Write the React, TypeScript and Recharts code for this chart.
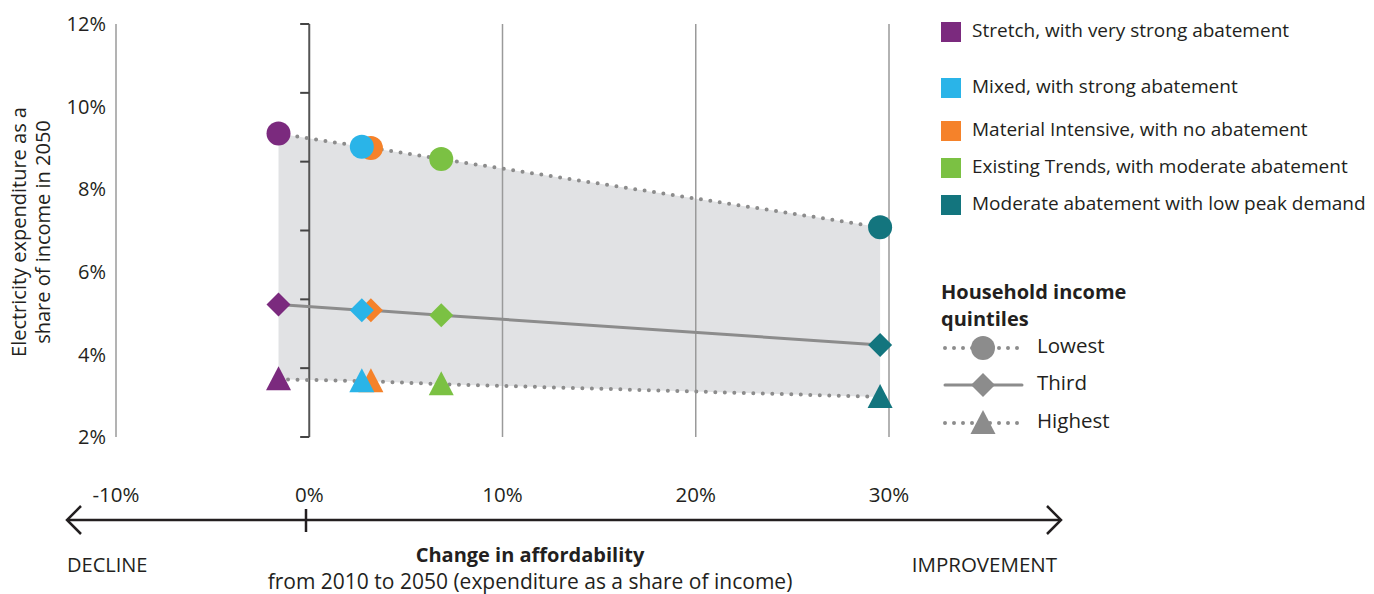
import { ComposedChart, Area, Line, Scatter, XAxis, YAxis, ReferenceLine } from 'recharts';

// scenarios (legend order)
const scenarios = [
  'Stretch, with very strong abatement',
  'Mixed, with strong abatement',
  'Material Intensive, with no abatement',
  'Existing Trends, with moderate abatement',
  'Moderate abatement with low peak demand',
];
const colors = ['#7b2a7e', '#2ab4e8', '#f5822a', '#7bc143', '#13757e'];

// change in affordability 2010-2050 (%)
const affordability = [-1.59, 2.72, 3.19, 6.83, 29.54];
// electricity expenditure as share of income in 2050 (%), by quintile
const lowest = [9.35, 9.03, 9.0, 8.73, 7.08];
const third = [5.21, 5.07, 5.07, 4.95, 4.23];
const highest = [3.4, 3.35, 3.35, 3.28, 2.97];

const xTicks = [-10, 0, 10, 20, 30];
const yTicks = [2, 4, 6, 8, 10, 12];
const zeroLineTicks = [12, 10.333, 8.667, 7, 5.333, 3.667, 2];
const quintiles = ['Lowest', 'Third', 'Highest'];

const FONT = '"Open Sans", "Noto Sans", sans-serif';
const TEXT = '#231f20';
const GREY = '#8c8c8c';

// line/area table sorted by x
const rows = affordability
  .map((x, i) => ({ x, low: lowest[i], mid: third[i], high: highest[i], band: [highest[i], lowest[i]] }))
  .sort((a, b) => a.x - b.x);

// drawing order: cyan sits in front of orange
const drawOrder = [0, 2, 1, 3, 4];

function marker(kind: string, cx: number, cy: number, fill: string) {
  if (kind === 'Lowest') return <circle cx={cx} cy={cy} r={12} fill={fill} />;
  if (kind === 'Third')
    return <polygon points={`${cx},${cy - 12} ${cx + 12},${cy} ${cx},${cy + 12} ${cx - 12},${cy}`} fill={fill} />;
  return <polygon points={`${cx},${cy - 13} ${cx + 12.5},${cy + 11} ${cx - 12.5},${cy + 11}`} fill={fill} />;
}

export default function App() {
  return (
    <div style={{ position: 'relative', width: 1358, height: 586, fontFamily: FONT }}>
      <ComposedChart width={1358} height={586} data={rows} margin={{ top: 16, right: 477, left: 0, bottom: 97 }}>
        <XAxis
          dataKey="x"
          type="number"
          domain={[-10, 30]}
          ticks={xTicks}
          tickFormatter={(v) => `${v}%`}
          axisLine={false}
          tickLine={false}
          tickMargin={44}
          height={60}
          tick={{ fontSize: 20.5, fill: TEXT, fontFamily: FONT }}
        />
        <YAxis
          type="number"
          domain={[2, 12]}
          ticks={yTicks}
          tickFormatter={(v) => `${v}%`}
          width={108}
          axisLine={{ stroke: '#9a9a9a', strokeWidth: 1.5 }}
          tickLine={false}
          tickMargin={4}
          tick={{ fontSize: 20, fill: TEXT, fontFamily: FONT }}
        />
        <Area dataKey="band" type="linear" fill="#e1e2e4" fillOpacity={1} stroke="none" isAnimationActive={false} />
        {[10, 20, 30].map((v) => (
          <ReferenceLine key={v} x={v} stroke="#9a9a9a" strokeWidth={1.5} />
        ))}
        <ReferenceLine x={0} stroke="#555" strokeWidth={2} />
        {zeroLineTicks.map((v) => (
          <ReferenceLine key={'t' + v} segment={[{ x: -0.47, y: v }, { x: 0, y: v }]} stroke="#444" strokeWidth={2} />
        ))}
        <Line dataKey="low" type="linear" stroke={GREY} strokeWidth={4} strokeDasharray="0 9.5" strokeLinecap="round" dot={false} isAnimationActive={false} />
        <Line dataKey="mid" type="linear" stroke={GREY} strokeWidth={3} dot={false} isAnimationActive={false} />
        <Line dataKey="high" type="linear" stroke={GREY} strokeWidth={4} strokeDasharray="0 9.5" strokeLinecap="round" dot={false} isAnimationActive={false} />
        {drawOrder.map((i) => (
          <Scatter
            key={scenarios[i]}
            name={scenarios[i]}
            data={[
              { x: affordability[i], y: lowest[i], q: 'Lowest' },
              { x: affordability[i], y: third[i], q: 'Third' },
              { x: affordability[i], y: highest[i], q: 'Highest' },
            ]}
            dataKey="y"
            fill={colors[i]}
            isAnimationActive={false}
            shape={(p: any) => marker(p.payload.q, p.cx, p.cy, colors[i])}
          />
        ))}
      </ComposedChart>

      <svg width={1374} height={594} style={{ position: 'absolute', left: -8, top: -8, pointerEvents: 'none' }} fontFamily={FONT}>
        {/* y axis title */}
        <text transform="translate(26,232) rotate(-90)" textAnchor="middle" fontSize={20} fill={TEXT}>
          Electricity expenditure as a
        </text>
        <text transform="translate(50,232) rotate(-90)" textAnchor="middle" fontSize={20} fill={TEXT}>
          share of income in 2050
        </text>

        {/* scenario legend */}
        {scenarios.map((s, i) => {
          const cy = [32, 88, 131, 168, 205][i];
          return (
            <g key={s}>
              <rect x={941} y={cy - 10} width={20} height={20} fill={colors[i]} />
              <text x={972} y={cy - 2} dy="0.35em" fontSize={19} fill={TEXT}>
                {s}
              </text>
            </g>
          );
        })}

        {/* quintile legend */}
        <text x={941} y={299} fontSize={20} fontWeight={700} fill={TEXT}>Household income</text>
        <text x={941} y={326} fontSize={20} fontWeight={700} fill={TEXT}>quintiles</text>
        {quintiles.map((q, i) => {
          const cy = [348, 385, 423][i];
          const solid = q === 'Third';
          return (
            <g key={q}>
              <line
                x1={945}
                x2={1022}
                y1={cy}
                y2={cy}
                stroke={GREY}
                strokeWidth={solid ? 3 : 4}
                strokeDasharray={solid ? undefined : '0 9'}
                strokeLinecap="round"
              />
              {marker(q, 983, cy, GREY)}
              <text x={1037} y={cy - 2} dy="0.35em" fontSize={20.5} fill={TEXT}>{q}</text>
            </g>
          );
        })}

        {/* affordability arrow */}
        <line x1={67} x2={1061} y1={520} y2={520} stroke={TEXT} strokeWidth={2.5} />
        <polyline points="81,506 67,520 81,534" fill="none" stroke={TEXT} strokeWidth={2.5} />
        <polyline points="1047,506 1061,520 1047,534" fill="none" stroke={TEXT} strokeWidth={2.5} />
        <line x1={306} x2={306} y1={509} y2={532} stroke={TEXT} strokeWidth={2.5} />
        <text x={67} y={572} fontSize={20} fill={TEXT}>DECLINE</text>
        <text x={1057} y={572} fontSize={20.5} fill={TEXT} textAnchor="end">IMPROVEMENT</text>
        <text x={530} y={562} fontSize={20} fontWeight={700} fill={TEXT} textAnchor="middle">Change in affordability</text>
        <text x={530} y={589} fontSize={21} fill={TEXT} textAnchor="middle">from 2010 to 2050 (expenditure as a share of income)</text>
      </svg>
    </div>
  );
}
